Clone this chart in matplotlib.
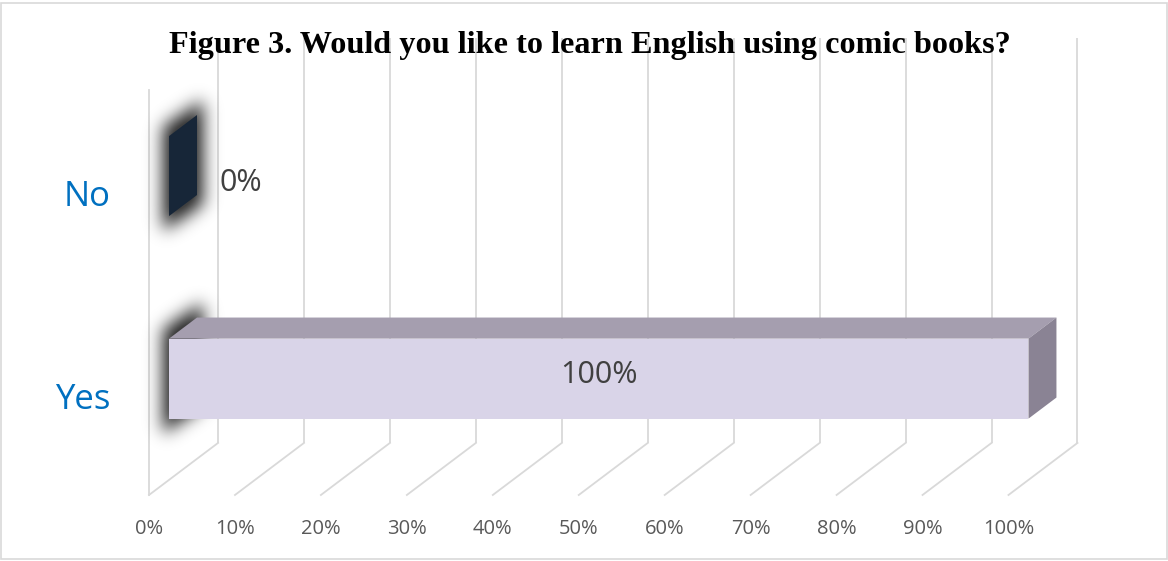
import numpy as np
import matplotlib
matplotlib.use("Agg")
import matplotlib.pyplot as plt
from matplotlib.patches import Polygon, Rectangle
from matplotlib.path import Path

# ---- data ----
categories = ["Yes", "No"]
values = [100, 0]
tick_values = [0, 10, 20, 30, 40, 50, 60, 70, 80, 90, 100]
tick_labels = ["0%", "10%", "20%", "30%", "40%", "50%", "60%", "70%", "80%", "90%", "100%"]
title = "Figure 3. Would you like to learn English using comic books?"

# ---- styling ----
front_colors = ["#D9D4E8", "#172638"]
top_colors = ["#A59EAF", "#172638"]
side_colors = ["#8A8394", "#172638"]
grid_color = "#D9D9D9"
cat_color = "#0070C0"
tick_color = "#595959"
label_color = "#404040"

W, H, DPI = 1168, 561, 100
fig = plt.figure(figsize=(W / DPI, H / DPI), dpi=DPI)
fig.patch.set_facecolor("white")
ax = fig.add_axes([0, 0, 1, 1])
ax.axis("off")
ax.set_xlim(-17.34, 118.56)
ax.set_ylim(-0.326, 2.444)

# oblique depth offset of the 3-D box (value units, category units)
DX, DY = 8.03, 0.257
D0, D1 = 0.29, 0.695     # bar depth span as fraction of the box depth
BAR_W = 0.395            # bar thickness in category units
n_cat = len(categories)

# back wall verticals and floor diagonals
for v in tick_values:
    ax.plot([v + DX, v + DX], [DY, n_cat + DY], color=grid_color, lw=1.3, zorder=1,
            solid_capstyle="butt")
    ax.plot([v, v + DX], [0, DY], color=grid_color, lw=1.3, zorder=1)
# left side wall front edge
ax.plot([0, 0], [0, n_cat], color=grid_color, lw=1.3, zorder=1)


def pt(v, c, d):
    return (v + d * DX, c + d * DY)


# soft shadow behind the base end of each bar
fig.canvas.draw()
to_px = ax.transData
mask = np.zeros((H, W))
gx, gy = np.meshgrid(np.arange(W) + 0.5, np.arange(H) + 0.5)
grid_pts = np.column_stack([gx.ravel(), gy.ravel()])
for i, cat in enumerate(categories):
    c0 = i + 0.5 - BAR_W / 2
    c1 = i + 0.5 + BAR_W / 2
    face = [pt(0, c0, D0), pt(0, c1, D0), pt(0, c1, D1), pt(0, c0, D1)]
    face_px = to_px.transform(face)
    cx, cy = face_px.mean(axis=0)
    grown = (face_px - [cx, cy]) * [1.45, 1.3] + [cx, cy]
    inside = Path(grown).contains_points(grid_pts).reshape(H, W)
    mask = np.maximum(mask, inside.astype(float))


def gauss_matrix(n, sigma):
    idx = np.arange(n)
    k = np.exp(-0.5 * ((idx[:, None] - idx[None, :]) / sigma) ** 2)
    return k / k.sum(axis=1, keepdims=True)


blur = gauss_matrix(H, 8.5) @ mask @ gauss_matrix(W, 8.5).T
alpha = np.clip(blur * 1.2, 0, 1) * 0.75
shadow = np.zeros((H, W, 4))
shadow[..., 3] = alpha
xl, yl = ax.get_xlim(), ax.get_ylim()
ax.imshow(shadow, origin="lower", extent=(xl[0], xl[1], yl[0], yl[1]),
          aspect="auto", zorder=2, interpolation="bilinear")
ax.set_xlim(xl)
ax.set_ylim(yl)

# 3-D bars
for i, (cat, val) in enumerate(zip(categories, values)):
    c0 = i + 0.5 - BAR_W / 2
    c1 = i + 0.5 + BAR_W / 2
    if val > 0:
        top = [pt(0, c1, D0), pt(val, c1, D0), pt(val, c1, D1), pt(0, c1, D1)]
        ax.add_patch(Polygon(top, closed=True, facecolor=top_colors[i],
                             edgecolor="none", zorder=3))
        front = [pt(0, c0, D0), pt(val, c0, D0), pt(val, c1, D0), pt(0, c1, D0)]
        ax.add_patch(Polygon(front, closed=True, facecolor=front_colors[i],
                             edgecolor="none", zorder=4))
    side = [pt(val, c0, D0), pt(val, c1, D0), pt(val, c1, D1), pt(val, c0, D1)]
    ax.add_patch(Polygon(side, closed=True, facecolor=side_colors[i],
                         edgecolor="none", zorder=4))

    # value label
    fy = i + 0.5 + D0 * DY
    if val >= 50:
        ax.text(val / 2 + D0 * DX, fy + 0.02, f"{val}%", ha="center", va="center",
                fontsize=22, color=label_color, family="Open Sans", zorder=5)
    else:
        ax.text(val + D1 * DX + 2.6, fy - 0.035, f"{val}%", ha="left", va="center",
                fontsize=22, color=label_color, family="Open Sans", zorder=5)

    # category label
    ax.text(-4.5, i + 0.5 - 0.03, cat, ha="right", va="center", fontsize=25,
            color=cat_color, family="Open Sans")

# value axis tick labels
for v, lab in zip(tick_values, tick_labels):
    ax.text(v, -0.168, lab, ha="center", va="center", fontsize=14.5,
            color=tick_color, family="Open Sans")

fig.text(590 / W, 1 - 46 / H, title, ha="center", va="center", fontsize=23.2,
         fontweight="bold", family="Liberation Serif", color="black", zorder=6)

# outer chart border
fig.patches.append(Rectangle((0.5 / W, 2.5 / H), (W - 1.5) / W, (H - 5) / H,
                             transform=fig.transFigure, fill=False,
                             edgecolor="#D9D9D9", lw=1.2))

fig.savefig("out.png", dpi=DPI, facecolor="white")
